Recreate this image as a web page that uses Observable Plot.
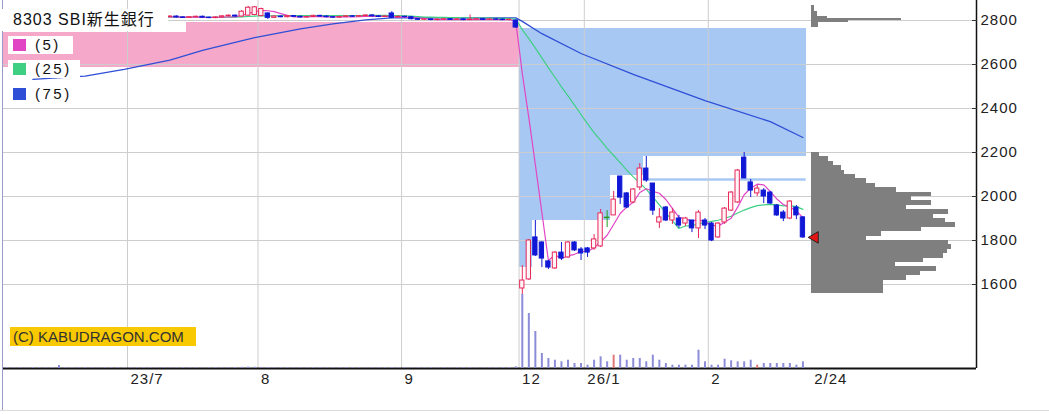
<!DOCTYPE html>
<html><head><meta charset="utf-8">
<script src="https://cdn.jsdelivr.net/npm/d3@7"></script>
<script src="https://cdn.jsdelivr.net/npm/@observablehq/plot@0.6"></script>
<style>
body{margin:0;background:#fff;}
#wrap{position:relative;width:1049px;height:414px;overflow:hidden;font-family:"Liberation Sans","Noto Sans CJK JP",sans-serif;color:#222;}
#wrap svg{position:absolute;left:0;top:0;}
.tag{position:absolute;background:#fff;white-space:nowrap;box-sizing:border-box;}
</style></head>
<body><div id="wrap"></div>
<script>
// ---------- data ----------
const title = "8303 SBI新生銀行";
const watermark = "(C) KABUDRAGON.COM";
const firstSlot = -19;            // trading-day slot of the first candle (slot 0 = 2023-07-03)
const openP = [
 2815,2811,2813,2810,2812,2816,2813,2816,2814,2811,2813,2815,2817,2814,2812,2815,2818,2816,2813,2815,2817,2814,2816,2818,
 2815,2816,2818,2814,2812,2815,2817,2813,2811,2814,2819,2822,
 2818,2822,2825,2820,2832,
 2812,2818,2815,2820,2817,2814,2816,2821,2818,2815,2813,2816,2819,2817,2820,2823,2819,2816,2832,2814,2817,
 2815,2806,2803,2805,2802,2804,2806,2803,2805,2802,2804,2806,2803,2805,2804,2802,
 2800,
 1582,1623,1814,1791,1705,1673,1745,1723,1791,1759,1764,1764,1773,1905,1914,2091,2014,1973,2041,2127,2059,1882,
 1950,1891,1900,1877,1891,1855,1891,1877,1814,1882,1936,1973,2177,2064,2014,2027,2018,1959,1927,1900,1950,1905];
const highP = [
 2818,2817,2816,2816,2818,2819,2819,2819,2817,2816,2818,2820,2820,2817,2818,2821,2821,2819,2818,2820,2820,2819,2821,2821,
 2819,2821,2821,2817,2818,2820,2820,2816,2817,2822,2825,2825,
 2845,2864,2864,2856,2835,
 2821,2821,2823,2823,2820,2819,2824,2824,2821,2818,2819,2822,2822,2823,2826,2826,2822,2821,2840,2820,2820,
 2818,2809,2808,2808,2807,2809,2809,2808,2808,2825,2809,2809,2808,2808,2807,2806,
 2802,
 1686,1805,1891,1795,1709,1750,1791,1795,1795,1768,1768,1827,1941,1936,2023,2091,2018,2036,2150,2182,2059,1945,
 1955,1945,1914,1905,1891,1936,1900,1882,1882,1950,2023,2123,2200,2077,2050,2036,2023,1964,1936,1982,1959,1909];
const lowP = [
 2809,2808,2807,2807,2809,2809,2810,2811,2808,2808,2810,2812,2811,2809,2809,2812,2813,2810,2810,2812,2811,2811,2813,2812,
 2812,2813,2811,2809,2809,2812,2810,2808,2808,2811,2816,2815,
 2815,2819,2822,2817,2805,
 2809,2812,2812,2814,2811,2811,2813,2815,2812,2810,2810,2813,2814,2814,2817,2816,2813,2813,2808,2811,2812,
 2803,2800,2800,2799,2799,2801,2800,2800,2799,2799,2801,2800,2800,2801,2799,2799,
 2765,
 1550,1618,1727,1677,1668,1668,1709,1718,1750,1709,1723,1755,1768,1859,1914,1964,1945,1968,2027,2064,1914,1855,
 1886,1873,1855,1864,1836,1809,1850,1795,1809,1873,1932,1968,2082,1995,2000,1968,1964,1909,1886,1895,1895,1809];
const closeP = [
 2812,2814,2810,2813,2815,2812,2816,2814,2811,2813,2815,2817,2814,2812,2815,2818,2816,2813,2815,2817,2814,2816,2818,2815,
 2816,2818,2814,2812,2815,2817,2813,2811,2814,2819,2822,2818,
 2840,2858,2860,2852,2812,
 2818,2815,2820,2817,2814,2816,2821,2818,2815,2813,2816,2819,2817,2820,2823,2819,2816,2818,2812,2817,2815,
 2806,2803,2805,2802,2804,2806,2803,2805,2802,2804,2806,2803,2805,2804,2802,2803,
 2768,
 1618,1800,1732,1718,1677,1745,1718,1791,1755,1741,1745,1805,1923,1905,1986,1995,1950,2032,2127,2073,1936,1905,
 1891,1927,1868,1900,1855,1927,1868,1800,1877,1945,2018,2118,2082,2027,2036,2000,1968,1914,1900,1977,1914,1814];
const volume = [
 40,35,45,30,50,40,35,45,150,40,30,35,45,40,30,35,40,45,30,40,35,40,45,35,
 40,30,35,45,40,35,30,40,45,35,40,50,
 60,70,65,55,50,
 40,35,45,30,40,35,45,40,30,35,40,45,35,40,30,35,40,45,50,35,40,
 35,40,30,45,35,40,30,35,40,45,30,35,40,35,45,50,
 85,
 3700,2750,1850,750,500,415,335,415,250,250,165,415,585,335,665,665,415,500,500,335,665,415,
 250,165,165,165,165,915,335,165,165,465,385,335,335,415,165,250,250,250,250,250,165,335];
const redVolumeSlots = [74, 96];

const tickSlots  = [0, 20, 42, 60, 70, 89];
const tickLabels = ["23/7", "8", "9", "12", "26/1", "2"];
const lastLabel  = "2/24";
const priceTicks = [1600, 1800, 2000, 2200, 2400, 2600, 2800];

const ma75Slot = [-15, -7, -1, 6, 11, 16, 19, 26, 31, 36, 40, 59, 60, 63, 69, 77, 88, 98, 103];
const ma75Val  = [2532, 2547, 2578, 2620, 2664, 2701, 2722, 2762, 2785, 2803, 2812, 2812, 2796, 2740, 2650, 2555, 2436, 2340, 2268];
const maLabels = ["(5)", "(25)", "(75)"];
const maColors = ["#e245c4", "#3fcf83", "#2f4fd6"];

const cloudFrom = [-19, 9, 60, 62, 74, 79];
const cloudTo   = [8, 59, 61, 73, 78, 103];
const cloudHi   = [2745, 2793, 2763, 2763, 2763, 2763];
const cloudLo   = [2588, 2588, 1677, 1891, 2095, 2182];
const cloudKind = ["pink", "pink", "blue", "blue", "blue", "blue"];
const spanFrom = [79], spanTo = [103], spanVal = [2077];

const profLowStart = [2180,2160,2140,2120,2100,2080,2060,2040,2020,2000,1980,1960,1940,1920,1900,1880,
                      1860,1840,1820,1800,1780,1760,1740,1720,1700,1680,1660,1640,1620,1600,1580,1560];
const profLowVol   = [8,17,22,30,33,44,55,64,85,120,100,120,95,137,122,134,
                      144,110,70,55,137,140,136,132,112,84,125,109,95,72,72,72];
const profTopStart = [2860,2850,2840,2830,2820,2810,2800,2790,2780,2770];
const profTopVol   = [3,3,3,6,6,16,90,37,7,7];

// ---------- build ----------
const W = 1049, H = 414, mL = 3, mR = 73, mB = 46;
const xDom = [-19.5, 129.6];
const yDom = [1218.2, 2890.9];
const UP = "#e6285a", DOWN = "#1018d6", DOJI = "#1e9e1e";

const candles = openP.map((o, k) => ({slot: firstSlot + k, open: o, high: highP[k], low: lowP[k], close: closeP[k], vol: volume[k]}));
const kind = d => d.close > d.open ? "up" : d.close < d.open ? "down" : "doji";
const cColor = d => ({up: UP, down: DOWN, doji: DOJI})[kind(d)];
const ma75 = ma75Slot.map((s, k) => ({slot: s, val: ma75Val[k]}));
const clouds = cloudFrom.map((f, k) => ({from: f, to: cloudTo[k], hi: cloudHi[k], lo: cloudLo[k], kind: cloudKind[k]}));
const spans = spanFrom.map((f, k) => ({from: f, to: spanTo[k], val: spanVal[k]}));
const profile = [
  ...profLowStart.map((p, k) => ({lo: p, hi: p + 20, vol: profLowVol[k]})),
  ...profTopStart.map((p, k) => ({lo: p, hi: p + 10, vol: profTopVol[k]}))
];
const gridPos = tickSlots.map(s => s - 0.5);
const labelMap = new Map(gridPos.map((g, k) => [g, tickLabels[k]]));
const last = candles[candles.length - 1];

const baseStyle = {background: "transparent", overflow: "visible", fontFamily: "'Liberation Sans','Noto Sans CJK JP',sans-serif", color: "#222", letterSpacing: "1px"};

const main = Plot.plot({
  width: W, height: H, marginLeft: mL, marginRight: mR, marginTop: 0, marginBottom: mB,
  x: {type: "linear", domain: xDom},
  y: {type: "linear", domain: yDom},
  style: {...baseStyle, background: "white"},
  marks: [
    Plot.rect(clouds, {x1: d => d.from - 0.5, x2: d => d.to + 0.5, y1: "lo", y2: "hi",
      fill: d => d.kind === "pink" ? "#f5a8c9" : "#a8c8f4", shapeRendering: "crispEdges"}),
    Plot.ruleY(spans, {x1: d => d.from - 0.5, x2: d => d.to + 0.5, y: "val", stroke: "#a8c8f4", strokeWidth: 2.5}),
    Plot.gridY(priceTicks, {stroke: "#cdcdcd", strokeOpacity: 1}),
    Plot.gridX(gridPos, {stroke: "#cdcdcd", strokeOpacity: 1}),
    Plot.line(ma75, {x: "slot", y: "val", stroke: maColors[2], strokeWidth: 1.3}),
    Plot.lineY(candles, Plot.windowY({k: 25, anchor: "end"}, {x: "slot", y: "close", stroke: maColors[1], strokeWidth: 1.2})),
    Plot.lineY(candles, Plot.windowY({k: 5, anchor: "end"}, {x: "slot", y: "close", stroke: maColors[0], strokeWidth: 1.2})),
    Plot.ruleX(candles, {x: "slot", y1: "low", y2: "high", stroke: cColor, strokeWidth: 1}),
    Plot.rect(candles.filter(d => kind(d) !== "doji"), {x1: d => d.slot - 0.33, x2: d => d.slot + 0.33, y1: "open", y2: "close",
      fill: d => kind(d) === "up" ? "#fff4f7" : DOWN, stroke: cColor, strokeWidth: 1}),
    Plot.ruleY(candles.filter(d => kind(d) === "doji"), {x1: d => d.slot - 0.42, x2: d => d.slot + 0.42, y: "close", stroke: DOJI, strokeWidth: 1.5}),
    Plot.ruleX([xDom[1]], {stroke: "#111", strokeWidth: 1.5}),
    Plot.ruleY([yDom[0]], {stroke: "#111", strokeWidth: 2}),
    Plot.axisY(priceTicks, {anchor: "right", tickSize: -5, text: null, stroke: "#333", label: null}),
    Plot.axisY(priceTicks, {anchor: "right", tickSize: 0, tickPadding: 4, fontSize: 15, label: null, tickFormat: d => String(d)}),
    Plot.axisX(gridPos, {anchor: "bottom", tickSize: 0, tickPadding: 5, fontSize: 15, textAnchor: "start", dx: 3,
      tickFormat: d => labelMap.get(d), label: null}),
    Plot.axisX([last.slot + 0.5], {anchor: "bottom", tickSize: 0, tickPadding: 5, fontSize: 15, textAnchor: "start", dx: 8,
      tickFormat: () => lastLabel, label: null})
  ]
});

const vol = Plot.plot({
  width: W, height: H, marginLeft: mL, marginRight: mR, marginTop: 294, marginBottom: mB,
  x: {type: "linear", domain: xDom, axis: null},
  y: {type: "linear", domain: [0, d3.max(volume)], axis: null},
  style: baseStyle,
  marks: [
    Plot.ruleX(candles, {x: "slot", y1: 0, y2: "vol", strokeWidth: 2,
      stroke: d => redVolumeSlots.includes(d.slot) ? "#e07878" : "#8c8cd8"})
  ]
});

const prof = Plot.plot({
  width: W, height: H, marginLeft: 811, marginRight: mR, marginTop: 0, marginBottom: mB,
  x: {type: "linear", domain: [0, 165], axis: null},
  y: {type: "linear", domain: yDom, axis: null},
  style: baseStyle,
  marks: [
    Plot.rect(profile, {x1: 0, x2: "vol", y1: "lo", y2: "hi", fill: "#7f7f7f", shapeRendering: "crispEdges"})
  ]
});

const marker = Plot.plot({
  width: W, height: H, marginLeft: mL, marginRight: mR, marginTop: 0, marginBottom: mB,
  x: {type: "linear", domain: xDom, axis: null},
  y: {type: "linear", domain: yDom, axis: null},
  style: baseStyle,
  marks: [
    Plot.dot([last], {x: "slot", y: "close", symbol: "triangle", r: 4.3, rotate: -90, dx: 12,
      fill: "#e41414", stroke: "#222", strokeWidth: 1})
  ]
});

const wrap = document.getElementById("wrap");
[main, vol, prof, marker].forEach(s => wrap.appendChild(s));

// frame decorations
const deco = (css) => { const d = document.createElement("div"); d.style.cssText = "position:absolute;" + css; wrap.appendChild(d); };
deco("left:2px;top:0;width:1px;height:411px;background:#9a9ac6;");
deco("left:0;top:410px;width:1049px;height:1px;background:#dcdcdc;");

// title
const t = document.createElement("div");
t.className = "tag";
t.textContent = title;
t.style.cssText += "left:0;top:9px;width:168px;height:22px;padding-left:13px;font-size:16px;line-height:22px;letter-spacing:1px;color:#111;";
wrap.appendChild(t);

// legend
const rowTop = [36, 60, 85], rowW = [65, 72, 72];
maLabels.forEach((lab, k) => {
  const r = document.createElement("div");
  r.className = "tag";
  r.style.cssText += `left:8px;top:${rowTop[k]}px;width:${rowW[k]}px;height:18px;`;
  const sq = document.createElement("div");
  sq.style.cssText = `position:absolute;left:5px;top:3px;width:13px;height:12px;background:${maColors[k]};`;
  const tx = document.createElement("div");
  tx.style.cssText = "position:absolute;left:27px;top:0;font-size:15px;line-height:18px;letter-spacing:2.5px;color:#111;";
  tx.textContent = lab;
  r.appendChild(sq); r.appendChild(tx);
  wrap.appendChild(r);
});

// watermark
const wm = document.createElement("div");
wm.className = "tag";
wm.textContent = watermark;
wm.style.cssText += "left:10px;top:327px;width:186px;height:19px;padding-left:3px;background:#f8c800;font-size:15px;line-height:19px;color:#333;";
wrap.appendChild(wm);
</script>
</body></html>
